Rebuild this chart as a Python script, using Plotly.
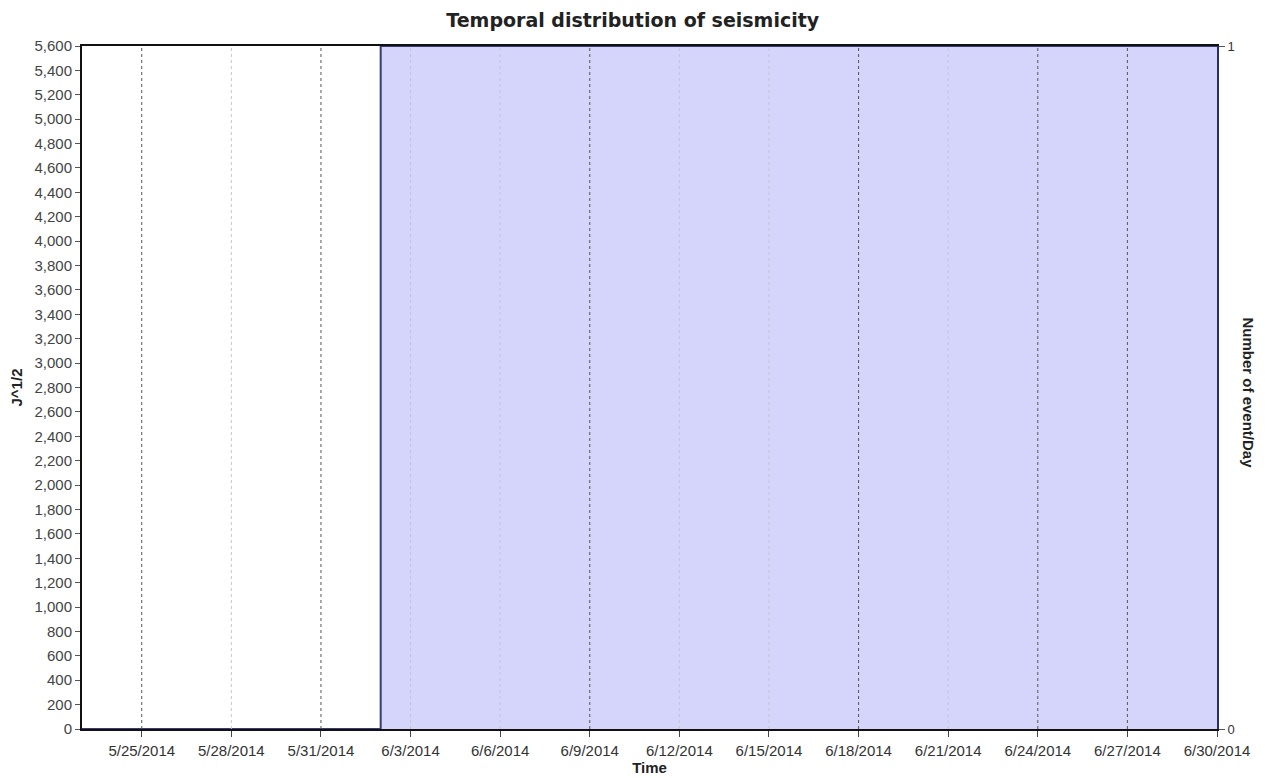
import plotly.graph_objects as go
import pandas as pd

# Data
day_dates = pd.date_range("2014-05-23", "2014-06-30", freq="D").strftime("%Y-%m-%d").tolist()
events_per_day = [0] * 10 + [1] * 29  # 5/23..6/1 -> 0, 6/2..6/30 -> 1
x_tick_dates = pd.date_range("2014-05-25", "2014-06-30", freq="3D").strftime("%Y-%m-%d").tolist()
dark_grid_dates = ["2014-05-25", "2014-05-31", "2014-06-09", "2014-06-18", "2014-06-24", "2014-06-27"]
left_ticks = list(range(0, 5601, 200))

fig = go.Figure()

# invisible trace to activate the left axis
fig.add_trace(go.Scatter(x=[day_dates[0], day_dates[-1]], y=[None, None], mode="lines",
                         showlegend=False, yaxis="y"))

fig.add_trace(go.Scatter(
    x=day_dates, y=events_per_day, yaxis="y2", mode="lines",
    line=dict(shape="hv", color="#3a3a78", width=2),
    fill="tozeroy", fillcolor="rgba(213,213,251,1)", showlegend=False))

# vertical dashed grid lines drawn above the fill
shapes = []
for d in x_tick_dates[:-1]:
    dark = d in dark_grid_dates
    shapes.append(dict(type="line", xref="x", yref="paper", x0=d, x1=d, y0=0, y1=1,
                       layer="above",
                       line=dict(color="#555" if dark else "#c4c4d4", width=1, dash="dot")))

font_family = "Liberation Sans, Arial, sans-serif"

fig.update_layout(
    width=1257, height=770,
    margin=dict(l=74, r=48, t=38, b=49),
    paper_bgcolor="white", plot_bgcolor="white",
    title=dict(text="<b>Temporal distribution of seismicity</b>", x=0.497, xanchor="center",
               y=0.984, yanchor="middle", font=dict(family="DejaVu Sans", size=19, color="#222")),
    font=dict(family=font_family, size=15, color="#333"),
    xaxis=dict(
        type="date", range=["2014-05-23", "2014-06-30"],
        tickvals=x_tick_dates, tickformat="%-m/%-d/%Y",
        ticks="outside", ticklen=6, tickcolor="#444", ticklabelstandoff=1,
        showgrid=False,
        showline=True, linecolor="#111", linewidth=2, mirror=True,
        tickfont=dict(size=15, color="#333"),
        title=dict(text="<b>Time</b>", font=dict(size=15, color="#222"), standoff=3),
        zeroline=False, automargin=False,
    ),
    yaxis=dict(
        range=[0, 5600], tickvals=left_ticks, tickformat=",d",
        ticks="outside", ticklen=5, tickcolor="#555",
        showgrid=False, zeroline=False,
        showline=True, linecolor="#111", linewidth=2,
        tickfont=dict(size=15, color="#444"),
        title=dict(text="<b>J^1/2</b>", font=dict(size=15, color="#222"), standoff=8),
        automargin=False,
    ),
    yaxis2=dict(
        overlaying="y", side="right", range=[0, 1], tickvals=[0, 1], ticktext=["0", "1"],
        ticks="outside", ticklen=6, tickcolor="#555",
        showgrid=False, zeroline=False,
        showline=True, linecolor="#2b2b70", linewidth=2,
        tickfont=dict(size=13, color="#333"), automargin=False,
    ),
    shapes=shapes,
    annotations=[dict(text="<b>Number of event/Day</b>", textangle=90, xref="paper", yref="paper",
                      x=1.0, xshift=31, y=0.5, yshift=-5, showarrow=False, xanchor="center",
                      font=dict(size=15, color="#222"))],
)

fig.write_html("out.html")
